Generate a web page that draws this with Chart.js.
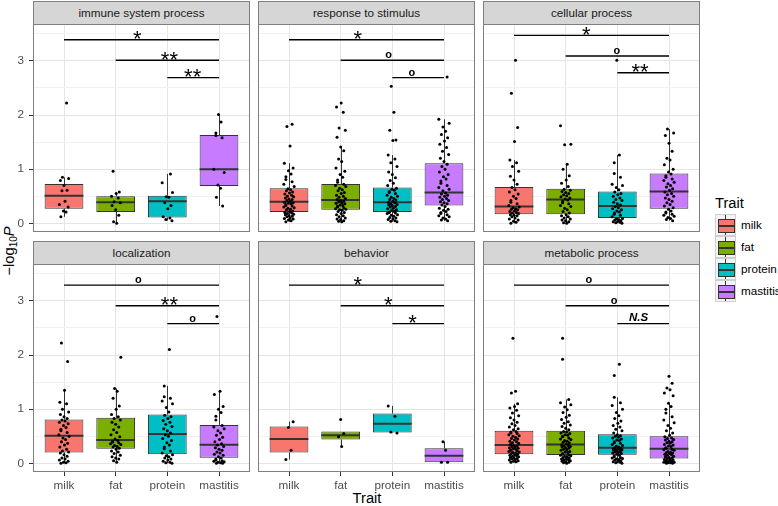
<!DOCTYPE html>
<html>
<head>
<meta charset="utf-8">
<script src="https://cdn.jsdelivr.net/npm/chart.js@4"></script>
<style>
  body { margin: 0; width: 778px; height: 506px; background: #fff; position: relative; overflow: hidden;
         font-family: "Liberation Sans", Arial, sans-serif; }
  canvas { position: absolute; }
  .strip { position: absolute; height: 24px; box-sizing: border-box; background: #d6d6d6; border: 1px solid #7f7f7f;
           color: #1a1a1a; font-size: 11.7px; line-height: 22px; text-align: center; }
  .ytitle { position: absolute; left: 10px; top: 251px; transform: translate(-50%, -50%) rotate(-90deg);
            white-space: nowrap; font-size: 14.7px; color: #000; }
  .ytitle sub { font-size: 10px; }
  .xtitle { position: absolute; left: 317px; top: 490px; width: 100px; text-align: center; font-size: 14.7px; line-height: 16px; }
  .legtitle { position: absolute; left: 715px; top: 195px; font-size: 14.7px; line-height: 16px; }
  .key { position: absolute; left: 715px; width: 21px; height: 22px; box-sizing: border-box; background: #f4f4f4; border: 1px solid #cfcfcf; }
  .key .wh { position: absolute; left: 9px; top: 0; width: 1px; height: 20px; background: #333; }
  .key .bx { position: absolute; left: 2px; top: 4px; width: 15px; height: 12px; border: 1px solid #333; }
  .key .md { position: absolute; left: 0; top: 5px; width: 15px; height: 2px; background: #333; }
  .leglab { position: absolute; left: 741px; font-size: 11.7px; line-height: 22px; }
</style>
</head>
<body>
<div class="ytitle">&minus;log<sub>10</sub><i>P</i></div>
<div class="xtitle">Trait</div>
<div class="legtitle">Trait</div>
<script>
// Categories
const TRAITS = ['milk', 'fat', 'protein', 'mastitis'];
const TRAIT_COLORS = ['#F8766D', '#7CAE00', '#00BFC4', '#C77CFF'];
const FACETS = ['immune system process', 'response to stimulus', 'cellular process',
                'localization', 'behavior', 'metabolic process'];
const Y_TICKS = [0, 0.5, 1, 1.5, 2, 2.5, 3, 3.5];

// Box stats per trait: [lower whisker, q1, median, q3, upper whisker]
const immuneBox = [[0.12, 0.27, 0.51, 0.725, 0.85], [0.00, 0.21, 0.39, 0.50, 0.58], [0.05, 0.11, 0.41, 0.51, 0.91], [0.32, 0.69, 1.00, 1.63, 2.01]];
const stimulusBox = [[0.03, 0.21, 0.40, 0.65, 1.11], [0.03, 0.25, 0.43, 0.725, 1.41], [0.03, 0.21, 0.39, 0.66, 1.26], [0.05, 0.33, 0.57, 1.11, 1.92]];
const cellularBox = [[0.00, 0.17, 0.31, 0.67, 1.17], [0.00, 0.17, 0.44, 0.64, 1.09], [0.00, 0.10, 0.32, 0.59, 1.26], [0.05, 0.27, 0.59, 0.92, 1.74]];
const localizationBox = [[0.00, 0.20, 0.51, 0.81, 1.35], [0.02, 0.27, 0.43, 0.84, 1.38], [0.00, 0.17, 0.54, 0.90, 1.43], [0.00, 0.105, 0.345, 0.71, 1.33]];
const behaviorBox = [[0.07, 0.20, 0.45, 0.68, 0.77], [0.31, 0.44, 0.52, 0.59, 0.59], [0.56, 0.57, 0.73, 0.92, 1.06], [0.02, 0.02, 0.14, 0.28, 0.40]];
const metabolicBox = [[0.02, 0.17, 0.34, 0.60, 1.10], [0.00, 0.155, 0.35, 0.60, 1.18], [0.00, 0.16, 0.29, 0.535, 1.22], [0.00, 0.09, 0.27, 0.50, 1.11]];
const BOXES = [immuneBox, stimulusBox, cellularBox, localizationBox, behaviorBox, metabolicBox];

// -log10 P of individual terms (milk, fat, protein, mastitis)
const immunePts = [
  [0.12, 0.21, 0.23, 0.30, 0.35, 0.41, 0.60, 0.61, 0.70, 0.79, 0.83, 0.85, 2.22],
  [0.00, 0.03, 0.15, 0.25, 0.33, 0.38, 0.40, 0.47, 0.50, 0.55, 0.58, 0.96],
  [0.05, 0.07, 0.10, 0.12, 0.27, 0.33, 0.38, 0.48, 0.49, 0.57, 0.75, 0.91],
  [0.32, 0.48, 0.65, 0.71, 0.94, 1.00, 1.58, 1.62, 1.67, 1.87, 2.01]
];
const stimulusPts = [
  [0.03, 0.05, 0.06, 0.08, 0.09, 0.10, 0.12, 0.13, 0.14, 0.16, 0.17, 0.18, 0.19, 0.20,
   0.22, 0.23, 0.25, 0.26, 0.28, 0.29, 0.30, 0.32, 0.33, 0.35, 0.36, 0.37, 0.38, 0.39,
   0.41, 0.42, 0.44, 0.45, 0.47, 0.49, 0.50, 0.52, 0.54, 0.56, 0.58, 0.60, 0.62, 0.64,
   0.68, 0.72, 0.77, 0.81, 0.86, 0.91, 0.97, 1.02, 1.11, 1.43, 1.79, 1.83],
  [0.03, 0.04, 0.05, 0.07, 0.08, 0.10, 0.12, 0.14, 0.16, 0.18, 0.20, 0.22, 0.24, 0.25,
   0.26, 0.27, 0.29, 0.30, 0.32, 0.33, 0.34, 0.36, 0.37, 0.38, 0.40, 0.41, 0.42,
   0.44, 0.46, 0.48, 0.50, 0.52, 0.55, 0.57, 0.60, 0.62, 0.65, 0.68, 0.70, 0.72,
   0.76, 0.80, 0.85, 0.90, 0.96, 1.02, 1.14, 1.19, 1.34, 1.41, 1.59, 1.72, 1.76, 2.05, 2.15, 2.22],
  [0.03, 0.04, 0.05, 0.07, 0.08, 0.10, 0.11, 0.13, 0.15, 0.16, 0.18, 0.19, 0.20, 0.21,
   0.22, 0.24, 0.25, 0.27, 0.28, 0.30, 0.31, 0.33, 0.34, 0.35, 0.36, 0.38, 0.39,
   0.41, 0.43, 0.44, 0.46, 0.48, 0.50, 0.52, 0.55, 0.57, 0.59, 0.61, 0.63, 0.65,
   0.70, 0.74, 0.79, 0.84, 0.90, 0.95, 1.05, 1.12, 1.19, 1.26, 1.53, 1.54, 1.72, 2.05, 2.53],
  [0.05, 0.06, 0.08, 0.10, 0.12, 0.14, 0.16, 0.18, 0.20, 0.22, 0.24, 0.26, 0.28, 0.31,
   0.34, 0.36, 0.38, 0.40, 0.42, 0.44, 0.46, 0.48, 0.50, 0.52, 0.54, 0.56,
   0.60, 0.63, 0.66, 0.70, 0.74, 0.78, 0.82, 0.86, 0.90, 0.95, 1.00, 1.05, 1.09,
   1.14, 1.20, 1.27, 1.33, 1.40, 1.46, 1.52, 1.58, 1.64, 1.70, 1.78, 1.85, 1.92, 2.70]
];
const cellularPts = [
  [0.00, 0.02, 0.04, 0.06, 0.08, 0.10, 0.12, 0.14, 0.15, 0.16,
   0.18, 0.19, 0.20, 0.22, 0.23, 0.25, 0.26, 0.27, 0.29, 0.30,
   0.33, 0.36, 0.39, 0.42, 0.46, 0.50, 0.54, 0.58, 0.62, 0.66,
   0.72, 0.80, 0.87, 0.96, 1.05, 1.12, 1.17, 1.51, 1.77, 2.40, 3.01],
  [0.00, 0.01, 0.03, 0.05, 0.06, 0.08, 0.10, 0.12, 0.14, 0.16,
   0.19, 0.22, 0.25, 0.28, 0.31, 0.33, 0.36, 0.38, 0.41, 0.43,
   0.45, 0.47, 0.49, 0.51, 0.53, 0.55, 0.57, 0.59, 0.61, 0.63,
   0.68, 0.74, 0.80, 0.88, 1.00, 1.09, 1.45, 1.46, 1.80],
  [0.00, 0.01, 0.02, 0.03, 0.04, 0.05, 0.06, 0.07, 0.08, 0.09,
   0.12, 0.15, 0.17, 0.19, 0.21, 0.23, 0.25, 0.27, 0.29, 0.31,
   0.34, 0.36, 0.39, 0.42, 0.44, 0.47, 0.50, 0.53, 0.55, 0.58,
   0.62, 0.66, 0.70, 0.72, 0.85, 0.92, 1.12, 1.26, 3.01],
  [0.05, 0.07, 0.09, 0.11, 0.13, 0.15, 0.17, 0.19, 0.21, 0.23, 0.26,
   0.29, 0.32, 0.35, 0.38, 0.41, 0.44, 0.47, 0.50, 0.53, 0.55, 0.58,
   0.61, 0.64, 0.67, 0.70, 0.73, 0.76, 0.79, 0.82, 0.85, 0.88, 0.91,
   0.95, 1.00, 1.08, 1.17, 1.20, 1.33, 1.48, 1.62, 1.67, 1.74]
];
const localizationPts = [
  [0.00, 0.01, 0.02, 0.04, 0.06, 0.08, 0.10, 0.13, 0.16, 0.19,
   0.21, 0.23, 0.26, 0.30, 0.34, 0.37, 0.40, 0.44, 0.47, 0.50,
   0.53, 0.57, 0.60, 0.63, 0.66, 0.70, 0.73, 0.76, 0.78, 0.80,
   0.83, 0.86, 0.90, 0.95, 1.00, 1.10, 1.13, 1.35, 1.88, 2.22],
  [0.02, 0.05, 0.08, 0.10, 0.12, 0.15, 0.18, 0.21, 0.23, 0.26,
   0.28, 0.30, 0.31, 0.33, 0.35, 0.36, 0.38, 0.39, 0.41, 0.42,
   0.45, 0.49, 0.53, 0.57, 0.62, 0.67, 0.72, 0.76, 0.80, 0.83,
   0.86, 0.90, 1.00, 1.06, 1.20, 1.33, 1.38, 1.96],
  [0.00, 0.01, 0.02, 0.04, 0.06, 0.08, 0.10, 0.12, 0.14, 0.16,
   0.19, 0.23, 0.27, 0.30, 0.34, 0.38, 0.42, 0.46, 0.50, 0.53,
   0.56, 0.60, 0.64, 0.68, 0.72, 0.76, 0.79, 0.83, 0.86, 0.89,
   0.95, 1.03, 1.10, 1.15, 1.20, 1.23, 1.43, 2.10],
  [0.00, 0.00, 0.01, 0.02, 0.03, 0.04, 0.05, 0.06, 0.08, 0.10,
   0.12, 0.15, 0.17, 0.19, 0.21, 0.24, 0.26, 0.29, 0.31, 0.34,
   0.36, 0.40, 0.44, 0.48, 0.52, 0.56, 0.60, 0.64, 0.67, 0.70,
   0.80, 0.87, 0.94, 1.00, 1.05, 1.27, 1.33, 2.71]
];
const behaviorPts = [
  [0.07, 0.24, 0.66, 0.77],
  [0.31, 0.49, 0.55, 0.81],
  [0.56, 0.58, 0.87, 1.06],
  [0.02, 0.02, 0.24, 0.40]
];
const metabolicPts = [
  [0.02, 0.03, 0.04, 0.05, 0.06, 0.07, 0.08, 0.09, 0.10, 0.11, 0.12, 0.13, 0.14, 0.15, 0.16, 0.17,
   0.18, 0.19, 0.20, 0.21, 0.22, 0.23, 0.24, 0.25, 0.26, 0.27, 0.28, 0.29, 0.30, 0.31, 0.32, 0.33,
   0.35, 0.37, 0.38, 0.40, 0.41, 0.43, 0.45, 0.46, 0.48, 0.50, 0.51, 0.53, 0.55, 0.56, 0.58, 0.59,
   0.62, 0.64, 0.67, 0.70, 0.73, 0.76, 0.80, 0.84, 0.88, 0.93, 0.98, 1.02, 1.05, 1.10, 1.30, 1.33, 2.31],
  [0.00, 0.01, 0.02, 0.03, 0.04, 0.05, 0.06, 0.07, 0.08, 0.09, 0.10, 0.11, 0.12, 0.13, 0.14, 0.15,
   0.16, 0.17, 0.18, 0.20, 0.21, 0.22, 0.24, 0.25, 0.26, 0.28, 0.29, 0.30, 0.31, 0.32, 0.33, 0.34,
   0.36, 0.38, 0.39, 0.41, 0.42, 0.44, 0.45, 0.47, 0.49, 0.50, 0.52, 0.53, 0.55, 0.56, 0.58, 0.59,
   0.62, 0.65, 0.68, 0.71, 0.74, 0.77, 0.81, 0.85, 0.89, 0.94, 0.99, 1.04, 1.08, 1.12, 1.18, 1.92, 2.31],
  [0.00, 0.01, 0.02, 0.03, 0.04, 0.05, 0.06, 0.07, 0.08, 0.09, 0.10, 0.11, 0.12, 0.14, 0.15,
   0.17, 0.18, 0.19, 0.20, 0.21, 0.22, 0.23, 0.24, 0.25, 0.25, 0.26, 0.27, 0.27, 0.28, 0.29,
   0.30, 0.32, 0.33, 0.35, 0.37, 0.38, 0.40, 0.42, 0.43, 0.45, 0.47, 0.48, 0.50, 0.51, 0.53,
   0.56, 0.60, 0.63, 0.67, 0.70, 0.74, 0.78, 0.83, 0.88, 0.94, 1.00, 1.07, 1.12, 1.22, 1.62, 1.83],
  [0.00, 0.00, 0.01, 0.01, 0.02, 0.02, 0.03, 0.03, 0.04, 0.05, 0.05, 0.06, 0.07, 0.08, 0.09,
   0.10, 0.11, 0.12, 0.13, 0.15, 0.16, 0.17, 0.18, 0.19, 0.20, 0.21, 0.22, 0.24, 0.25, 0.26,
   0.28, 0.29, 0.31, 0.32, 0.34, 0.35, 0.37, 0.38, 0.40, 0.41, 0.43, 0.44, 0.46, 0.47, 0.49,
   0.52, 0.56, 0.60, 0.65, 0.70, 0.75, 0.80, 0.86, 0.93, 1.00, 1.05, 1.11, 1.25, 1.30, 1.36, 1.39, 1.48, 1.61]
];
const POINTS = [immunePts, stimulusPts, cellularPts, localizationPts, behaviorPts, metabolicPts];

// horizontal jitter offsets (trait units), reused in turn
const JITTER = [-0.06, 0.04, -0.01, 0.08, -0.09, 0.02, -0.04, 0.06, 0.00, -0.07, 0.09, -0.03,
                0.05, -0.08, 0.01, 0.07, -0.05, 0.03, -0.02, 0.10, -0.10, 0.06, -0.06];

// significance brackets: from trait (1-based) to mastitis
const SIG_FROM = [1, 2, 3];
const SIG_Y = [[3.39, 3.01, 2.69], [3.39, 3.01, 2.69], [3.47, 3.09, 2.78],
               [3.29, 2.91, 2.58], [3.29, 2.91, 2.58], [3.29, 2.91, 2.58]];
const SIG_TEXT = [['*', '**', '**'], ['*', 'o', 'o'], ['*', 'o', '**'],
                  ['o', '**', 'o'], ['*', '*', '*'], ['o', 'o', 'N.S']];
const SIG_TEXT_X = [[2.42, 3.04, 3.49], [2.33, 2.93, 3.38], [2.40, 2.99, 3.44],
                    [2.44, 3.04, 3.49], [2.33, 2.92, 3.39], [2.45, 2.94, 3.41]];

Chart.defaults.font.family = '"Liberation Sans", Arial, sans-serif';
Chart.defaults.animation = false;

const FONT = '"Liberation Sans", Arial, sans-serif';

const boxParts = {
  id: 'boxParts',
  beforeDatasetsDraw(chart, args, opts) {
    const { ctx, scales: { x, y } } = chart;
    ctx.save();
    ctx.strokeStyle = '#333';
    ctx.lineWidth = 1;
    BOXES[opts.facet].forEach((b, i) => {
      const px = Math.round(x.getPixelForValue(i + 1)) + 0.5;
      ctx.beginPath();
      ctx.moveTo(px, y.getPixelForValue(b[0]));
      ctx.lineTo(px, y.getPixelForValue(b[1]));
      ctx.moveTo(px, y.getPixelForValue(b[3]));
      ctx.lineTo(px, y.getPixelForValue(b[4]));
      ctx.stroke();
    });
    ctx.restore();
  },
  afterDatasetDraw(chart, args, opts) {
    if (args.meta.type !== 'bar') return;
    const { ctx, scales: { y } } = chart;
    ctx.save();
    ctx.strokeStyle = '#333';
    ctx.lineWidth = 2;
    args.meta.data.forEach((bar, i) => {
      const { x, width } = bar.getProps(['x', 'width'], true);
      const py = y.getPixelForValue(BOXES[opts.facet][i][2]);
      ctx.beginPath();
      ctx.moveTo(x - width / 2, py);
      ctx.lineTo(x + width / 2, py);
      ctx.stroke();
    });
    ctx.restore();
  },
  afterDraw(chart, args, opts) {
    const { ctx, chartArea: a, scales: { x, y } } = chart;
    const f = opts.facet;
    ctx.save();
    // significance brackets
    ctx.strokeStyle = '#000';
    ctx.fillStyle = '#000';
    ctx.lineWidth = 1.4;
    ctx.textAlign = 'center';
    ctx.textBaseline = 'alphabetic';
    SIG_FROM.forEach((from, k) => {
      const py = y.getPixelForValue(SIG_Y[f][k]);
      ctx.beginPath();
      ctx.moveTo(x.getPixelForValue(from), py);
      ctx.lineTo(x.getPixelForValue(4), py);
      ctx.stroke();
      const t = SIG_TEXT[f][k];
      const tx = x.getPixelForValue(SIG_TEXT_X[f][k]);
      if (t === 'o') {
        ctx.font = 'bold 11px ' + FONT;
        ctx.fillText(t, tx, py - 1.8);
      } else if (t === 'N.S') {
        ctx.font = 'italic bold 11.5px ' + FONT;
        ctx.fillText(t, tx, py - 2.7);
      } else {
        ctx.font = '22px ' + FONT;
        ctx.fillText(t, tx, py + 6.5);
      }
    });
    // panel border
    ctx.strokeStyle = '#7f7f7f';
    ctx.lineWidth = 1;
    ctx.strokeRect(a.left + 0.5, a.top + 0.5, a.right - a.left - 1, a.bottom - a.top - 1);
    ctx.restore();
  }
};

const COL_X = [33, 258, 483];
const PLOT_W = 217;
const STRIP_TOP = [1, 241];
const PLOT_TOP = [24, 264];
const PLOT_H = 208;
const Y_AXIS_W = 33;
const X_AXIS_H = 26;

const noPadding = s => { s.paddingLeft = 0; s.paddingRight = 0; s.paddingTop = 0; s.paddingBottom = 0; };

FACETS.forEach((name, f) => {
  const col = f % 3, row = Math.floor(f / 3);
  const leftCol = col === 0, bottomRow = row === 1;

  const strip = document.createElement('div');
  strip.className = 'strip';
  strip.style.left = COL_X[col] + 'px';
  strip.style.top = STRIP_TOP[row] + 'px';
  strip.style.width = PLOT_W + 'px';
  strip.textContent = name;
  document.body.appendChild(strip);

  const canvas = document.createElement('canvas');
  const w = PLOT_W + (leftCol ? Y_AXIS_W : 0);
  const h = PLOT_H + (bottomRow ? X_AXIS_H : 0);
  canvas.width = w; canvas.height = h;
  canvas.style.width = w + 'px'; canvas.style.height = h + 'px';
  canvas.style.left = (leftCol ? COL_X[col] - Y_AXIS_W : COL_X[col]) + 'px';
  canvas.style.top = PLOT_TOP[row] + 'px';
  document.body.appendChild(canvas);

  const boxes = BOXES[f];
  const points = POINTS[f].flatMap((vals, ti) =>
    vals.map((v, k) => ({ x: ti + 1 + JITTER[(k + ti * 5) % JITTER.length], y: v })));

  new Chart(canvas.getContext('2d'), {
    type: 'scatter',
    data: {
      datasets: [
        {
          type: 'bar',
          data: boxes.map((b, i) => ({ x: i + 1, y: [b[1], b[3]] })),
          backgroundColor: TRAIT_COLORS,
          borderColor: '#333',
          borderWidth: 1,
          borderSkipped: false,
          barPercentage: 1,
          categoryPercentage: 0.75,
          order: 2
        },
        {
          type: 'scatter',
          data: points,
          backgroundColor: '#000',
          borderWidth: 0,
          pointRadius: 1.5,
          order: 1
        }
      ]
    },
    options: {
      responsive: false,
      layout: { padding: 0, autoPadding: false },
      plugins: { legend: { display: false }, tooltip: { enabled: false }, boxParts: { facet: f } },
      scales: {
        x: {
          type: 'linear', min: 0.4, max: 4.6, offset: false,
          afterBuildTicks: s => { s.ticks = [1, 2, 3, 4].map(v => ({ value: v })); },
          afterFit: s => { s.height = bottomRow ? X_AXIS_H : 0; noPadding(s); },
          border: { display: false },
          grid: { offset: false, color: '#e5e5e5', tickColor: '#333', tickLength: 4, drawTicks: bottomRow },
          ticks: { display: bottomRow, autoSkip: false, maxRotation: 0, padding: 3,
                   color: '#4d4d4d', font: { size: 11.7 }, callback: v => TRAITS[v - 1] }
        },
        y: {
          type: 'linear', min: -0.16, max: 3.68,
          afterBuildTicks: s => { s.ticks = Y_TICKS.map(v => ({ value: v })); },
          afterFit: s => { s.width = leftCol ? Y_AXIS_W : 0; noPadding(s); },
          border: { display: false },
          grid: {
            color: c => Number.isInteger(c.tick.value) ? '#e5e5e5' : '#f2f2f2',
            tickColor: c => Number.isInteger(c.tick.value) ? '#333' : 'rgba(0,0,0,0)',
            tickLength: 4, drawTicks: leftCol
          },
          ticks: { display: leftCol, padding: 5, color: '#4d4d4d', font: { size: 11.7 },
                   callback: v => Number.isInteger(v) ? String(v) : '' }
        }
      }
    },
    plugins: [boxParts]
  });
});

// legend
TRAITS.forEach((t, i) => {
  const top = 214 + 22 * i;
  const key = document.createElement('div');
  key.className = 'key';
  key.style.top = top + 'px';
  key.innerHTML = '<div class="wh"></div><div class="bx" style="background:' + TRAIT_COLORS[i] + '"><div class="md"></div></div>';
  document.body.appendChild(key);
  const lab = document.createElement('div');
  lab.className = 'leglab';
  lab.style.top = top + 'px';
  lab.textContent = t;
  document.body.appendChild(lab);
});
</script>
</body>
</html>
